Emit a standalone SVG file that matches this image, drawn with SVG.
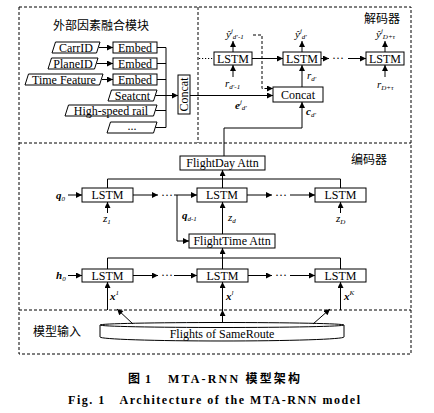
<svg xmlns="http://www.w3.org/2000/svg" width="434" height="413" viewBox="0 0 434 413">
<defs>
<marker id="ah" viewBox="0 0 10 10" refX="10" refY="5" markerWidth="7" markerHeight="6" markerUnits="userSpaceOnUse" orient="auto"><path d="M0,0 L10,5 L0,10 z" fill="#000"/></marker>
<style>
.box{fill:#fff;stroke:#000;stroke-width:1}
.ln{fill:none;stroke:#000;stroke-width:1}
.ar{fill:none;stroke:#000;stroke-width:1;marker-end:url(#ah)}
.dash{fill:none;stroke:#000;stroke-width:1;stroke-dasharray:3,2}
.dot{fill:none;stroke:#000;stroke-width:1.2;stroke-dasharray:1.2,1.8}
.t{font-family:"Liberation Serif",serif;font-size:12px;text-anchor:middle;fill:#000}
.m{font-family:"Liberation Serif",serif;font-size:11px;font-style:italic;fill:#000}
.mb{font-family:"Liberation Serif",serif;font-size:11px;font-style:italic;font-weight:bold;fill:#000}
.s{font-size:7px;font-weight:normal}
.zh{font-family:"Noto Sans CJK SC",sans-serif;font-size:12px;fill:#000}
.cap{font-family:"Liberation Serif","Noto Sans CJK SC",serif;font-weight:bold;font-size:12px;fill:#000}
</style>
</defs>
<rect width="434" height="413" fill="#fff"/>

<!-- region borders -->
<g id="regions">
<rect x="19" y="7" width="392" height="347" class="dash"/>
<line x1="198" y1="7" x2="198" y2="143" class="dash"/>
<line x1="19" y1="143" x2="411" y2="143" class="dash"/>
<line x1="19" y1="310" x2="411" y2="310" class="dash"/>
<text x="53" y="30" class="zh">外部因素融合模块</text>
<text x="364" y="23" class="zh">解码器</text>
<text x="351" y="164" class="zh">编码器</text>
<text x="33" y="336" class="zh">模型输入</text>
</g>

<!-- external factor module -->
<g id="carrid"><polygon points="55.5,42 100,42 96.5,53 52,53" class="box"/><text x="76" y="51.5" class="t">CarrID</text></g>
<g id="planeid"><polygon points="51.5,58 98,58 94.5,69 48,69" class="box"/><text x="73" y="67.5" class="t">PlaneID</text></g>
<g id="timefeature"><polygon points="28.5,74 103,74 99.5,85 25,85" class="box"/><text x="64" y="83.5" class="t">Time Feature</text></g>
<g id="seatcnt"><polygon points="111.5,90 157,90 153.5,101 108,101" class="box"/><text x="132.5" y="99.5" class="t">Seatcnt</text></g>
<g id="hsr"><polygon points="68.5,105 157,105 153.5,116 65,116" class="box"/><text x="111" y="114.5" class="t">High-speed rail</text></g>
<g id="more"><polygon points="110.5,122 157,122 153.5,133 107,133" class="box"/><text x="132" y="130" class="t">...</text></g>
<g id="embed1"><rect x="113" y="42" width="44" height="11" class="box"/><text x="135" y="51.5" class="t">Embed</text></g>
<g id="embed2"><rect x="113" y="58" width="44" height="11" class="box"/><text x="135" y="67.5" class="t">Embed</text></g>
<g id="embed3"><rect x="113" y="74" width="44" height="11" class="box"/><text x="135" y="83.5" class="t">Embed</text></g>
<g id="concat1"><rect x="178" y="75" width="12" height="39" class="box"/><text transform="translate(188,94.5) rotate(-90)" class="t">Concat</text></g>

<!-- decoder -->
<g id="dlstm1"><rect x="214" y="52" width="38" height="13" class="box"/><text x="233" y="62.5" class="t">LSTM</text></g>
<g id="dlstm2"><rect x="283" y="52" width="38" height="13" class="box"/><text x="302" y="62.5" class="t">LSTM</text></g>
<g id="dlstm3"><rect x="366" y="52" width="38" height="13" class="box"/><text x="385" y="62.5" class="t">LSTM</text></g>
<g id="concat2"><rect x="273" y="87" width="50" height="15" class="box"/><text x="298" y="98.5" class="t">Concat</text></g>

<!-- encoder -->
<g id="flightday"><rect x="180" y="156" width="85" height="14" class="box"/><text x="222.5" y="167" class="t">FlightDay Attn</text></g>
<g id="elstm1"><rect x="82" y="188" width="51" height="14" class="box"/><text x="107.5" y="199" class="t">LSTM</text></g>
<g id="elstmd"><rect x="197" y="188" width="50" height="14" class="box"/><text x="222" y="199" class="t">LSTM</text></g>
<g id="elstmD"><rect x="315" y="188" width="51" height="14" class="box"/><text x="340.5" y="199" class="t">LSTM</text></g>
<g id="flighttime"><rect x="189" y="234" width="86" height="14" class="box"/><text x="232" y="245" class="t">FlightTime Attn</text></g>
<g id="tlstm1"><rect x="82" y="269" width="51" height="13" class="box"/><text x="107.5" y="279.5" class="t">LSTM</text></g>
<g id="tlstml"><rect x="197" y="269" width="51" height="13" class="box"/><text x="222.5" y="279.5" class="t">LSTM</text></g>
<g id="tlstmK"><rect x="315" y="269" width="51" height="13" class="box"/><text x="340.5" y="279.5" class="t">LSTM</text></g>

<!-- input -->
<g id="flights">
<path d="M100,325 V337 A122,4 0 0 0 344,337 V325" class="box"/>
<ellipse cx="222" cy="325" rx="122" ry="2.5" class="box"/>
<text x="222" y="338" class="t">Flights of SameRoute</text>
</g>

<!-- connectors -->
<g id="connectors">
<line x1="99" y1="47.5" x2="113" y2="47.5" class="ar"/>
<line x1="97" y1="63.5" x2="113" y2="63.5" class="ar"/>
<line x1="102" y1="79.5" x2="113" y2="79.5" class="ar"/>
<path d="M157,47.5 H166 V127.5 H155.5" class="ln"/>
<line x1="157" y1="63.5" x2="166" y2="63.5" class="ln"/>
<line x1="157" y1="79.5" x2="166" y2="79.5" class="ln"/>
<line x1="155.5" y1="110.5" x2="166" y2="110.5" class="ln"/>
<line x1="155.5" y1="95.5" x2="178" y2="95.5" class="ar"/>
<line x1="190" y1="95.5" x2="273" y2="95.5" class="ar"/>
<path d="M253,35 H262 V88.5 H273" class="dash" style="marker-end:url(#ah)"/>
<line x1="199" y1="58.5" x2="213" y2="58.5" class="dot"/>
<line x1="252" y1="58.5" x2="283" y2="58.5" class="ar"/>
<line x1="321" y1="58.5" x2="329" y2="58.5" class="ar"/>
<text x="338" y="62" class="t">···</text>
<line x1="348" y1="58.5" x2="366" y2="58.5" class="ar"/>
<line x1="233" y1="52" x2="233" y2="41" class="ar"/>
<line x1="302" y1="52" x2="302" y2="41" class="ar"/>
<line x1="385" y1="52" x2="385" y2="41" class="ar"/>
<line x1="233" y1="77" x2="233" y2="65" class="ar"/>
<line x1="385" y1="77" x2="385" y2="65" class="ar"/>
<line x1="302" y1="87" x2="302" y2="65" class="ar"/>
<path d="M224,156 V128 H302 V102" class="ar"/>

<path d="M107.5,188 V179 H340.5 V188" class="ln"/>
<line x1="222.5" y1="188" x2="222.5" y2="170" class="ar"/>
<line x1="68" y1="195" x2="82" y2="195" class="ar"/>
<line x1="133" y1="195" x2="158" y2="195" class="ar"/>
<text x="167" y="198.5" class="t">···</text>
<line x1="174" y1="195" x2="197" y2="195" class="ar"/>
<path d="M177,195 V241 H189" class="ar"/>
<line x1="247" y1="195" x2="272" y2="195" class="ar"/>
<text x="281" y="198.5" class="t">···</text>
<line x1="290" y1="195" x2="315" y2="195" class="ar"/>
<line x1="107.5" y1="213" x2="107.5" y2="202" class="ar"/>
<line x1="222.5" y1="234" x2="222.5" y2="202" class="ar"/>
<line x1="340.5" y1="213" x2="340.5" y2="202" class="ar"/>

<path d="M107.5,269 V258 H340.5 V269" class="ln"/>
<line x1="222.5" y1="269" x2="222.5" y2="248" class="ar"/>
<line x1="68" y1="275.5" x2="82" y2="275.5" class="ar"/>
<line x1="133" y1="275.5" x2="158" y2="275.5" class="ar"/>
<text x="167" y="279" class="t">···</text>
<line x1="174" y1="275.5" x2="197" y2="275.5" class="ar"/>
<line x1="248" y1="275.5" x2="272" y2="275.5" class="ar"/>
<text x="281" y="279" class="t">···</text>
<line x1="290" y1="275.5" x2="315" y2="275.5" class="ar"/>
<line x1="107.5" y1="310" x2="107.5" y2="282" class="ar"/>
<line x1="222.5" y1="311" x2="222.5" y2="282" class="ar"/>
<line x1="340.5" y1="310" x2="340.5" y2="282" class="ar"/>
<line x1="133" y1="324" x2="117" y2="309" class="ar"/>
<line x1="222.5" y1="323" x2="222.5" y2="310" class="ar"/>
<line x1="313" y1="324" x2="330" y2="309" class="ar"/>
</g>

<!-- math labels -->
<g id="labels">
<text x="226" y="38" class="m">ŷ<tspan class="s" dy="-5">j</tspan><tspan class="s" dy="6">d′-1</tspan></text>
<text x="295" y="38" class="m">ŷ<tspan class="s" dy="-5">j</tspan><tspan class="s" dy="6">d′</tspan></text>
<text x="376" y="38" class="m">ŷ<tspan class="s" dy="-5">j</tspan><tspan class="s" dy="6">D+τ</tspan></text>
<text x="225" y="87" class="m">r<tspan class="s" dy="2">d′-1</tspan></text>
<text x="307" y="79" class="m">r<tspan class="s" dy="2">d′</tspan></text>
<text x="377" y="88" class="m">r<tspan class="s" dy="2">D+τ</tspan></text>
<text x="235" y="109" class="mb">e<tspan class="s" dy="-5">j</tspan><tspan class="s" dy="6">d′</tspan></text>
<text x="306" y="115" class="mb">c<tspan class="s" dy="2">d′</tspan></text>
<text x="56" y="198.5" class="mb">q<tspan class="s" dy="2">0</tspan></text>
<text x="103" y="222" class="m">z<tspan class="s" dy="2">1</tspan></text>
<text x="228" y="221" class="m">z<tspan class="s" dy="2">d</tspan></text>
<text x="336" y="222" class="m">z<tspan class="s" dy="2">D</tspan></text>
<text x="182" y="219" class="mb">q<tspan class="s" dy="2">d-1</tspan></text>
<text x="56" y="279" class="mb">h<tspan class="s" dy="2">0</tspan></text>
<text x="110" y="300" class="mb">x<tspan class="s" dy="-5">1</tspan></text>
<text x="226" y="300" class="mb">x<tspan class="s" dy="-5">l</tspan></text>
<text x="344" y="300" class="mb">x<tspan class="s" dy="-5">K</tspan></text>
</g>

<g id="caption">
<text x="128" y="383" class="cap" textLength="23" lengthAdjust="spacing">图 1</text>
<text x="168" y="383" class="cap" textLength="132" lengthAdjust="spacing">MTA-RNN 模型架构</text>
<text x="214" y="404" class="cap" text-anchor="middle" textLength="292" lengthAdjust="spacing">Fig. 1　Architecture of the MTA-RNN model</text>
</g>
</svg>
